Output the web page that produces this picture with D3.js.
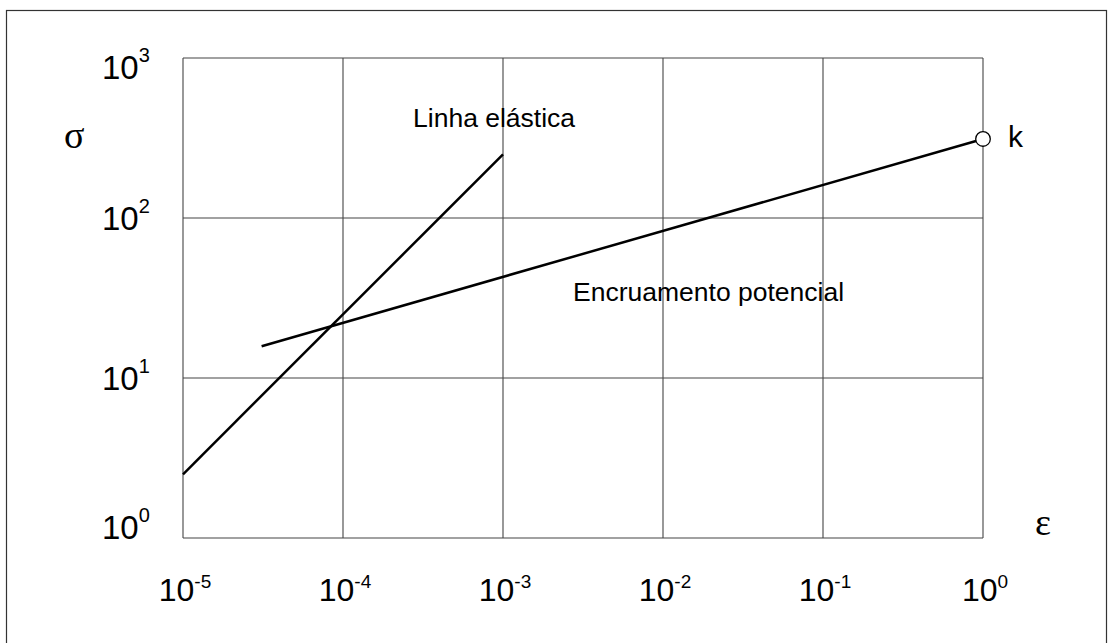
<!DOCTYPE html>
<html>
<head>
<meta charset="utf-8">
<script src="https://cdn.jsdelivr.net/npm/d3@7"></script>
<style>
  html, body { margin: 0; padding: 0; background: #fff; }
  svg { display: block; }
  text { font-family: "Liberation Sans", Arial, sans-serif; fill: #000; }
  .greek { font-family: "Liberation Serif", "Times New Roman", serif; }
</style>
</head>
<body>
<svg id="chart" width="1114" height="643"></svg>
<script>
// Strain (ε) and stress (σ) decades shown on the log–log axes
const xTickExponents = [-5, -4, -3, -2, -1, 0];
const yTickExponents = [0, 1, 2, 3];

// Elastic line: σ proportional to ε
const elasticLine = [[1e-5, 2.5], [1e-3, 250]];
// Power-law strain hardening ending at point k
const hardeningLine = [[3.1e-5, 15.8], [1, 312]];
const kPoint = [1, 312];

const curveLabels = [
  { text: "Linha elástica", at: [2.74e-4, 370] },
  { text: "Encruamento potencial", at: [2.74e-3, 30.4] }
];

const svg = d3.select("#chart");
const plot = { left: 183, right: 983, top: 58, bottom: 538 };

const x = d3.scaleLog().domain([1e-5, 1]).range([plot.left, plot.right]);
const y = d3.scaleLog().domain([1, 1000]).range([plot.bottom, plot.top]);

// outer frame
svg.append("rect")
  .attr("x", 6.5).attr("y", 10.5)
  .attr("width", 1100).attr("height", 700)
  .attr("fill", "none").attr("stroke", "#333").attr("stroke-width", 1.2);

// grid
const grid = svg.append("g").attr("stroke", "#444").attr("stroke-width", 1.1).attr("fill", "none");
grid.selectAll("line.v").data(xTickExponents).join("line")
  .attr("x1", d => x(Math.pow(10, d))).attr("x2", d => x(Math.pow(10, d)))
  .attr("y1", plot.top).attr("y2", plot.bottom);
grid.selectAll("line.h").data(yTickExponents).join("line")
  .attr("y1", d => y(Math.pow(10, d))).attr("y2", d => y(Math.pow(10, d)))
  .attr("x1", plot.left).attr("x2", plot.right);

// x tick labels (10 with superscript exponent)
const xl = svg.append("g").selectAll("text").data(xTickExponents).join("text")
  .attr("x", d => x(Math.pow(10, d)) + 2)
  .attr("y", 601)
  .attr("text-anchor", "middle")
  .style("font-size", "32px");
xl.append("tspan").text("10");
xl.append("tspan").attr("dy", -13).style("font-size", "19px").text(d => String(d));

// y tick labels, kept inside the plot's vertical span
const yl = svg.append("g").selectAll("text").data(yTickExponents).join("text")
  .attr("x", 102)
  .attr("y", d => Math.min(plot.bottom + 1, Math.max(plot.top + 21, y(Math.pow(10, d)) + 12)))
  .style("font-size", "33px");
yl.append("tspan").text("10");
yl.append("tspan").attr("dy", -17).style("font-size", "20px").text(d => String(d));

// axis symbols
svg.append("text").attr("class", "greek").attr("x", 64).attr("y", 148)
  .style("font-size", "38px").text("σ");
svg.append("text").attr("class", "greek").attr("x", 1035).attr("y", 535)
  .style("font-size", "38px").text("ε");

// curves
const line = d3.line().x(d => x(d[0])).y(d => y(d[1]));
[elasticLine, hardeningLine].forEach(pts => {
  svg.append("path").attr("d", line(pts))
    .attr("fill", "none").attr("stroke", "#000").attr("stroke-width", 2.5);
});

// point k
svg.append("circle")
  .attr("cx", x(kPoint[0])).attr("cy", y(kPoint[1])).attr("r", 7.3)
  .attr("fill", "#fff").attr("stroke", "#000").attr("stroke-width", 1.3);
svg.append("text").attr("x", x(kPoint[0]) + 25).attr("y", y(kPoint[1]) + 8)
  .style("font-size", "30px").text("k");

// curve names
svg.append("g").selectAll("text").data(curveLabels).join("text")
  .attr("x", d => x(d.at[0])).attr("y", d => y(d.at[1]))
  .style("font-size", "26.5px").text(d => d.text);
</script>
</body>
</html>
